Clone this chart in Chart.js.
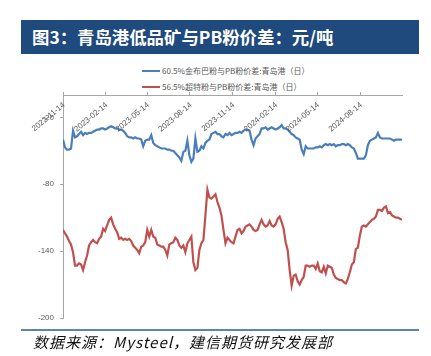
<!DOCTYPE html>
<html><head><meta charset="utf-8">
<script src="https://cdn.jsdelivr.net/npm/chart.js@4.4.0/dist/chart.umd.min.js"></script>
<style>
html,body{margin:0;padding:0;background:#fff;}
#wrap{position:relative;width:431px;height:356px;overflow:hidden;font-family:"Noto Sans CJK SC",sans-serif;}
#title{position:absolute;left:21px;top:20px;width:398px;height:34px;background:#1f4a7d;color:#fff;font-weight:bold;font-size:17.4px;line-height:34px;padding-left:11px;box-sizing:border-box;white-space:nowrap;}
.leg{position:absolute;left:142px;font-size:8px;color:#595959;line-height:10px;height:10px;white-space:nowrap;}
.leg .sw{display:inline-block;width:18px;height:2px;vertical-align:middle;margin-right:2px;position:relative;top:-1px;}
#sep{position:absolute;left:21px;top:329px;width:398px;height:1.5px;background:#5b84b4;}
#src{position:absolute;left:33px;top:332px;font-size:15px;font-style:italic;color:#111;white-space:nowrap;line-height:20px;letter-spacing:1px;}
canvas{position:absolute;left:0;top:0;}
</style></head>
<body><div id="wrap">
<div id="title">图3：青岛港低品矿与PB粉价差：元/吨</div>
<div class="leg" id="leg0" style="top:66px"></div>
<div class="leg" id="leg1" style="top:82px"></div>
<canvas id="c" width="431" height="356"></canvas>
<div id="sep"></div>
<div id="src">数据来源：Mysteel，建信期货研究发展部</div>
</div>
<script>
const startDate = '2022-11-14';
const endDate = '2024-11-12';
const tickLabels = ['2022-11-14','2023-02-14','2023-05-14','2023-08-14','2023-11-14','2024-02-14','2024-05-14','2024-08-14'];
const yTicks = [-200, -140, -80, -20];
const seriesNames = ['60.5%金布巴粉与PB粉价差:青岛港（日）', '56.5%超特粉与PB粉价差:青岛港（日）'];
const seriesColors = ['#4a7ebb', '#c0504d'];

const jinbubaSpread = [
 -40,-47,-49,-49,-48,-32,-38,-37,-35,-33,
 -36,-34,-35,-34,-34,-33,-32,-31,-31,-30,
 -30,-31,-30,-29,-28,-29,-30,-30,-31,-31,
 -32,-34,-37,-38,-38,-39,-38,-39,-39,-40,
 -46,-41,-40,-40,-36,-43,-45,-46,-47,-48,
 -48,-48,-49,-49,-50,-50,-52,-54,-56,-59,
 -51,-50,-41,-54,-60,-57,-39,-51,-50,-46,
 -48,-43,-41,-40,-35,-34,-33,-35,-35,-37,
 -38,-35,-36,-34,-36,-35,-34,-34,-33,-34,
 -32,-31,-31,-32,-40,-45,-39,-37,-35,-30,
 -30,-29,-31,-30,-29,-30,-31,-30,-29,-27,
 -30,-30,-31,-33,-35,-36,-38,-39,-40,-49,
 -53,-46,-48,-48,-48,-48,-47,-47,-46,-47,
 -45,-44,-45,-44,-45,-44,-46,-45,-45,-44,
 -44,-45,-44,-45,-47,-48,-52,-57,-57,-57,
 -57,-54,-45,-41,-40,-39,-38,-34,-38,-39,
 -39,-39,-39,-39,-40,-41,-40,-40,-40,-40
];
const chaotefenSpread = [
 -121,-124,-127,-131,-134,-141,-153,-153,-151,-152,
 -157,-150,-144,-135,-132,-130,-132,-133,-129,-127,
 -120,-122,-117,-112,-110,-116,-120,-123,-129,-128,
 -130,-129,-130,-129,-131,-135,-137,-139,-142,-136,
 -135,-132,-121,-127,-121,-127,-128,-134,-135,-136,
 -136,-139,-144,-134,-133,-132,-128,-130,-135,-137,
 -135,-141,-133,-130,-127,-150,-157,-155,-139,-133,
 -130,-108,-85,-92,-93,-91,-89,-96,-101,-108,
 -121,-133,-128,-130,-132,-133,-127,-121,-120,-124,
 -122,-118,-117,-116,-118,-121,-122,-121,-116,-112,
 -116,-118,-117,-113,-117,-118,-116,-111,-109,-114,
 -120,-132,-139,-157,-171,-162,-161,-167,-170,-166,
 -163,-153,-153,-154,-153,-153,-156,-151,-158,-159,
 -154,-160,-153,-154,-155,-161,-164,-165,-166,-166,
 -168,-169,-165,-159,-152,-150,-138,-137,-126,-118,
 -117,-118,-116,-114,-112,-111,-109,-103,-103,-104,
 -101,-100,-106,-105,-108,-109,-110,-110,-111,-112
];

const dayOf = s => Math.round((Date.parse(s) - Date.parse(startDate)) / 86400000);
const span = dayOf(endDate);
const toPoints = arr => arr.map((v, i) => ({x: i * span / (arr.length - 1), y: v}));

[0,1].forEach(i => {
  const el = document.getElementById('leg' + i);
  el.innerHTML = '<span class="sw" style="background:' + seriesColors[i] + '"></span>' + seriesNames[i];
});

const axisGrey = '#a6a6a6';
const topLabels = {
  id: 'topLabels',
  afterDatasetsDraw(chart) {
    const {ctx, scales: {x, y}} = chart;
    const y0 = y.getPixelForValue(0);
    ctx.save();
    ctx.font = '8px "Liberation Sans", Arial, sans-serif';
    ctx.fillStyle = '#595959';
    ctx.textAlign = 'right';
    ctx.textBaseline = 'middle';
    tickLabels.forEach(lab => {
      const px = x.getPixelForValue(dayOf(lab));
      ctx.save();
      ctx.translate(px + 1, y0 + 9);
      ctx.rotate(-40 * Math.PI / 180);
      ctx.fillText(lab, 0, 0);
      ctx.restore();
    });
    ctx.restore();
  }
};

new Chart(document.getElementById('c'), {
  type: 'line',
  data: {
    datasets: [
      {label: seriesNames[0], data: toPoints(jinbubaSpread), borderColor: seriesColors[0], backgroundColor: seriesColors[0], borderWidth: 2.2, pointRadius: 0, tension: 0},
      {label: seriesNames[1], data: toPoints(chaotefenSpread), borderColor: seriesColors[1], backgroundColor: seriesColors[1], borderWidth: 2.2, pointRadius: 0, tension: 0}
    ]
  },
  options: {
    responsive: false,
    animation: false,
    devicePixelRatio: 1,
    layout: {padding: {left: 0, top: 92, right: 29, bottom: 38}},
    plugins: {legend: {display: false}, tooltip: {enabled: false}},
    scales: {
      x: {
        type: 'linear', position: 'top', min: 0, max: span,
        afterBuildTicks: s => { s.ticks = tickLabels.map(l => ({value: dayOf(l)})); },
        afterFit: s => { s.height = 3; },
        ticks: {display: false},
        grid: {drawOnChartArea: false, tickLength: 3, color: axisGrey},
        border: {color: axisGrey}
      },
      y: {
        min: -200, max: 0,
        afterBuildTicks: s => { s.ticks = yTicks.map(v => ({value: v})); },
        afterFit: s => { s.width = 63; },
        ticks: {font: {size: 8, family: '"Liberation Sans", Arial, sans-serif'}, color: '#595959', padding: 6},
        grid: {drawOnChartArea: false, tickLength: 3, color: axisGrey},
        border: {color: axisGrey}
      }
    }
  },
  plugins: [topLabels]
});
</script>
</body></html>
